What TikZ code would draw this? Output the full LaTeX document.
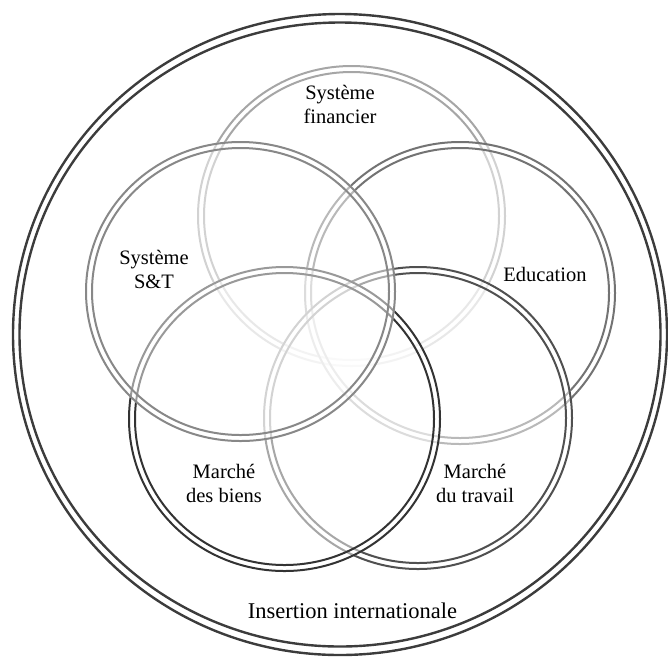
\documentclass[tikz,border=0pt]{standalone}
\usepackage{fontspec}
\setmainfont{Liberation Serif}
\definecolor{cOuter}{HTML}{3C3C3C}
\definecolor{cFin}{HTML}{A6A6A6}
\definecolor{cEdu}{HTML}{737373}
\definecolor{cTrav}{HTML}{505050}
\definecolor{cBiens}{HTML}{333333}
\definecolor{cST}{HTML}{888888}
\begin{document}
\begin{tikzpicture}[x=1pt,y=-1pt,
  ring/.style={line width=2pt},
  outerring/.style={line width=2.4pt,draw=cOuter},
  veil/.style={fill=white,fill opacity=0.5},
  lbl/.style={align=center,inner sep=0pt,font=\fontsize{20.5}{23.5}\selectfont},
  biglbl/.style={inner sep=0pt,font=\fontsize{22.5}{26}\selectfont}]
\useasboundingbox (0,0) rectangle (668,657);
% centres
\coordinate (co) at (340,334.5);
\coordinate (cf) at (351.5,216);
\coordinate (ce) at (460,293);
\coordinate (ct) at (418,418);
\coordinate (cb) at (284.5,419);
\coordinate (cs) at (240.5,291.5);
% outer ring
\draw[outerring] (co) ellipse [x radius=327, y radius=320.5];
\draw[outerring] (co) ellipse [x radius=320.5, y radius=312];
% financier
\fill[veil] (cf) ellipse [x radius=154.5, y radius=151];
\draw[ring,draw=cFin] (cf) ellipse [x radius=153.5, y radius=150];
\draw[ring,draw=cFin] (cf) ellipse [x radius=147.5, y radius=144];
% education
\fill[veil] (ce) ellipse [x radius=156, y radius=152];
\draw[ring,draw=cEdu] (ce) ellipse [x radius=155, y radius=151];
\draw[ring,draw=cEdu] (ce) ellipse [x radius=149, y radius=145];
% marche du travail
\fill[veil] (ct) ellipse [x radius=155, y radius=152];
\draw[ring,draw=cTrav] (ct) ellipse [x radius=154, y radius=151];
\draw[ring,draw=cTrav] (ct) ellipse [x radius=148, y radius=145];
% marche des biens
\fill[veil] (cb) ellipse [x radius=156.5, y radius=153];
\draw[ring,draw=cBiens] (cb) ellipse [x radius=155.5, y radius=152];
\draw[ring,draw=cBiens] (cb) ellipse [x radius=149.5, y radius=146];
% systeme S&T
\fill[veil] (cs) ellipse [x radius=155.5, y radius=150.5];
\draw[ring,draw=cST] (cs) ellipse [x radius=154.5, y radius=149.5];
\draw[ring,draw=cST] (cs) ellipse [x radius=148.5, y radius=143.5];
% labels
\node[lbl] (lfin) at (340,104.5) {Système\\financier};
\node[lbl] (lst) at (154,269.5) {Système\\S\&T};
\node[lbl,anchor=base] (ledu) at (545,281) {Education};
\node[lbl] (lbiens) at (224,483.5) {Marché\\des biens};
\node[lbl] (ltrav) at (475,483.5) {Marché\\du travail};
\node[biglbl,anchor=base] (lins) at (352.5,618.5) {Insertion internationale};
\end{tikzpicture}
\end{document}
